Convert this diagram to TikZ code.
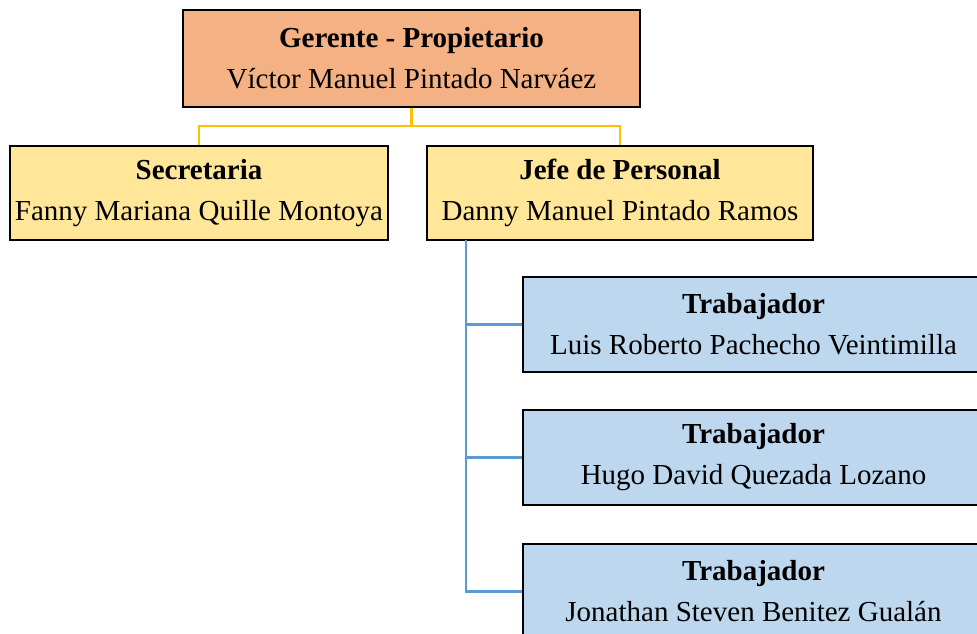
\documentclass[tikz,border=0pt]{standalone}
\usepackage{fontspec}
\setmainfont{Liberation Serif}
\definecolor{salmon}{HTML}{F4B183}
\definecolor{paleyellow}{HTML}{FFE699}
\definecolor{paleblue}{HTML}{BDD7EE}
\definecolor{lineyellow}{HTML}{FFC000}
\definecolor{lineblue}{HTML}{5B9BD5}
\tikzset{
  orgbox/.style={draw=black, line width=2.6pt, inner sep=0pt, align=center,
    font=\fontsize{29}{41}\selectfont},
  topbox/.style={orgbox, fill=salmon, minimum width=457pt, minimum height=97pt},
  midbox/.style={orgbox, fill=paleyellow, minimum height=94pt},
  workbox/.style={orgbox, fill=paleblue, minimum width=461pt, minimum height=95pt},
  ylink/.style={draw=lineyellow, line width=2.5pt},
  blink/.style={draw=lineblue, line width=2.5pt},
}
\begin{document}
\begin{tikzpicture}[x=1pt,y=-1pt]
\useasboundingbox (0,0) rectangle (977,634);
\clip (0,0) rectangle (977,634);
\fill[white] (0,0) rectangle (977,634);
\coordinate (bus) at (411.5,126);
\coordinate (trunk) at (466,240);
\node[topbox] (top) at (411.5,58.5) {\textbf{Gerente - Propietario}\\Víctor Manuel Pintado Narváez};
\node[midbox, minimum width=378pt] (sec) at (199,193) {\textbf{Secretaria}\\Fanny Mariana Quille Montoya};
\node[midbox, minimum width=386pt] (jefe) at (620,193) {\textbf{Jefe de Personal}\\Danny Manuel Pintado Ramos};
\node[workbox] (t1) at (753.5,324.5) {\textbf{Trabajador}\\Luis Roberto Pachecho Veintimilla};
\node[workbox] (t2) at (753.5,457.5) {\textbf{Trabajador}\\Hugo David Quezada Lozano};
\node[workbox] (t3) at (753.5,591.5) {\textbf{Trabajador}\\Jonathan Steven Benitez Gualán};
\draw[ylink] (top.south) -- (bus);
\draw[ylink] (bus) -| (sec.north);
\draw[ylink] (bus) -| (jefe.north);
\draw[blink] (trunk) |- (t3.west);
\draw[blink] (t1.west) -- (t1.west -| trunk);
\draw[blink] (t2.west) -- (t2.west -| trunk);
\end{tikzpicture}
\end{document}
